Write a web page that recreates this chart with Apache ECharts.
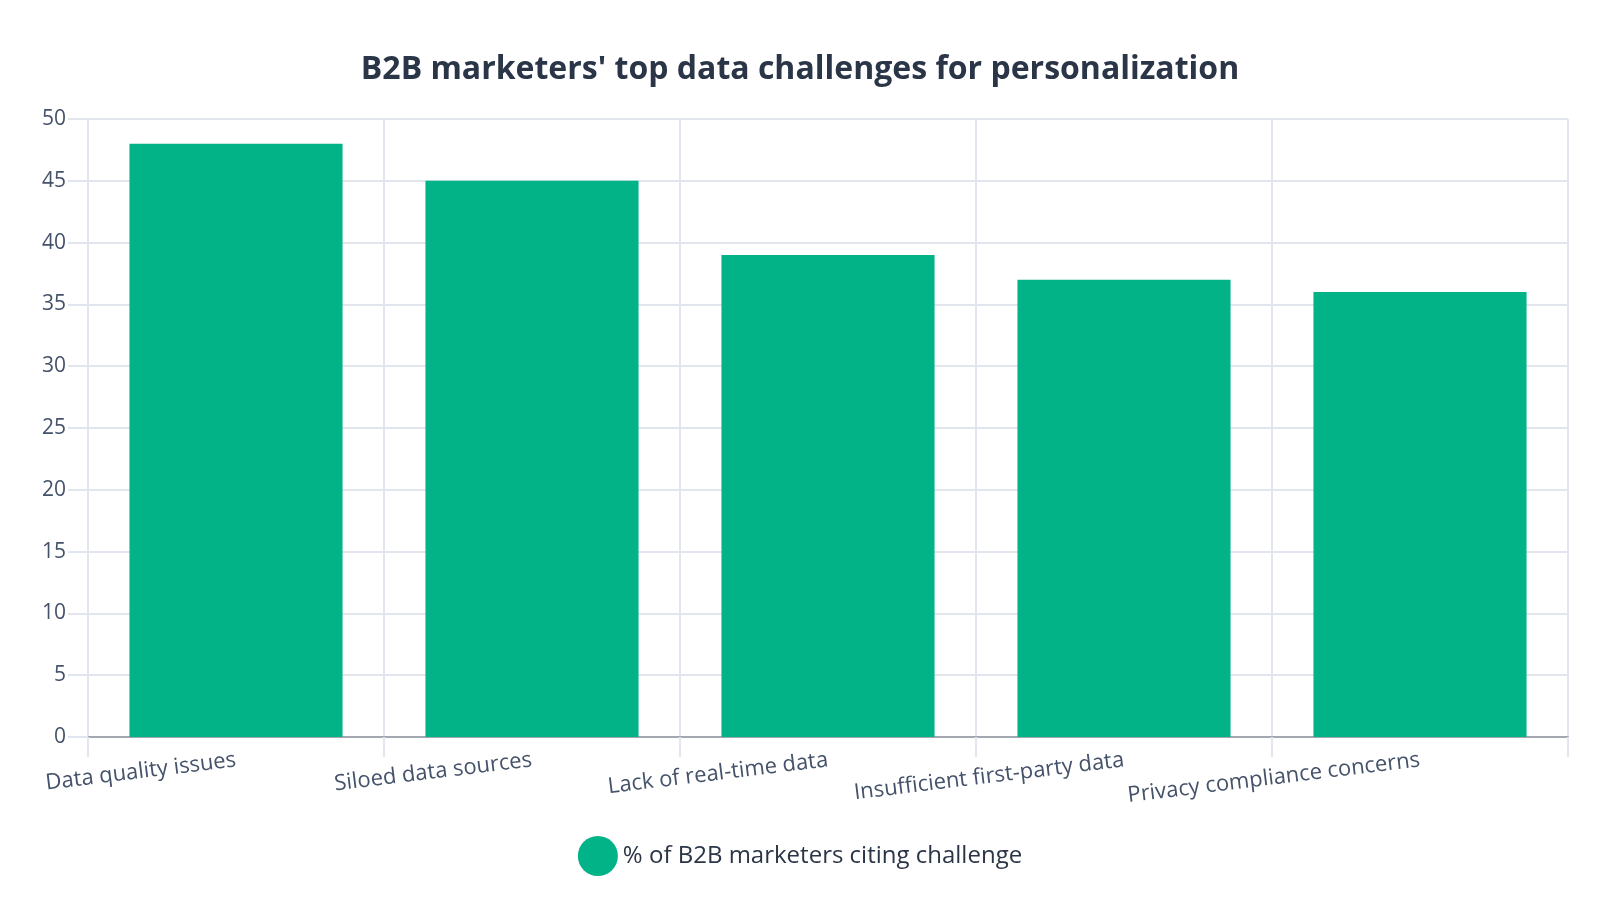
<!DOCTYPE html>
<html>
<head>
<meta charset="utf-8" />
<title>B2B data challenges</title>
<script src="https://cdn.jsdelivr.net/npm/echarts@6/dist/echarts.min.js"></script>
</head>
<body style="margin:0;background:#fff;">
<div id="container" style="width:1600px;height:900px;"></div>
<script>
var categories = ['Data quality issues', 'Siloed data sources', 'Lack of real-time data', 'Insufficient first-party data', 'Privacy compliance concerns'];
var shares = [48, 45, 39, 37, 36];
var seriesName = '% of B2B marketers citing challenge';

var chart = echarts.init(document.getElementById('container'));
var gridColor = '#e1e5ed';
var option = {
    backgroundColor: '#fff',
    textStyle: { fontFamily: 'Open Sans' },
    title: {
        text: "B2B marketers' top data challenges for personalization",
        left: 'center',
        top: 49,
        textStyle: { fontSize: 32, fontWeight: 'bold', color: '#2a3547', fontFamily: 'Open Sans' }
    },
    legend: {
        data: [seriesName],
        icon: 'circle',
        left: 'center',
        top: 831,
        itemWidth: 40,
        itemHeight: 40,
        itemGap: 6,
        textStyle: { fontSize: 24, color: '#2a3547', fontFamily: 'Open Sans' }
    },
    grid: { left: 88, right: 32, top: 119, bottom: 163, containLabel: false },
    xAxis: {
        type: 'category',
        data: categories,
        axisLine: { lineStyle: { color: '#a3a8b0', width: 2 } },
        axisTick: { show: true, length: 20, lineStyle: { color: gridColor, width: 2 } },
        splitLine: { show: true, lineStyle: { color: gridColor, width: 2 } },
        axisLabel: { rotate: 7, margin: 23, fontSize: 22, color: '#44526a', fontFamily: 'Open Sans' }
    },
    yAxis: {
        type: 'value',
        min: 0,
        max: 50,
        interval: 5,
        axisLine: { show: false },
        axisTick: { show: true, length: 20, lineStyle: { color: gridColor, width: 2 } },
        splitLine: { lineStyle: { color: gridColor, width: 2 } },
        axisLabel: { margin: 22, fontSize: 21, color: '#44526a', fontFamily: 'Open Sans' }
    },
    series: [{
        name: seriesName,
        type: 'bar',
        data: shares,
        barCategoryGap: '28%',
        itemStyle: { color: '#02b388' }
    }]
};
chart.setOption(option);
</script>
</body>
</html>
